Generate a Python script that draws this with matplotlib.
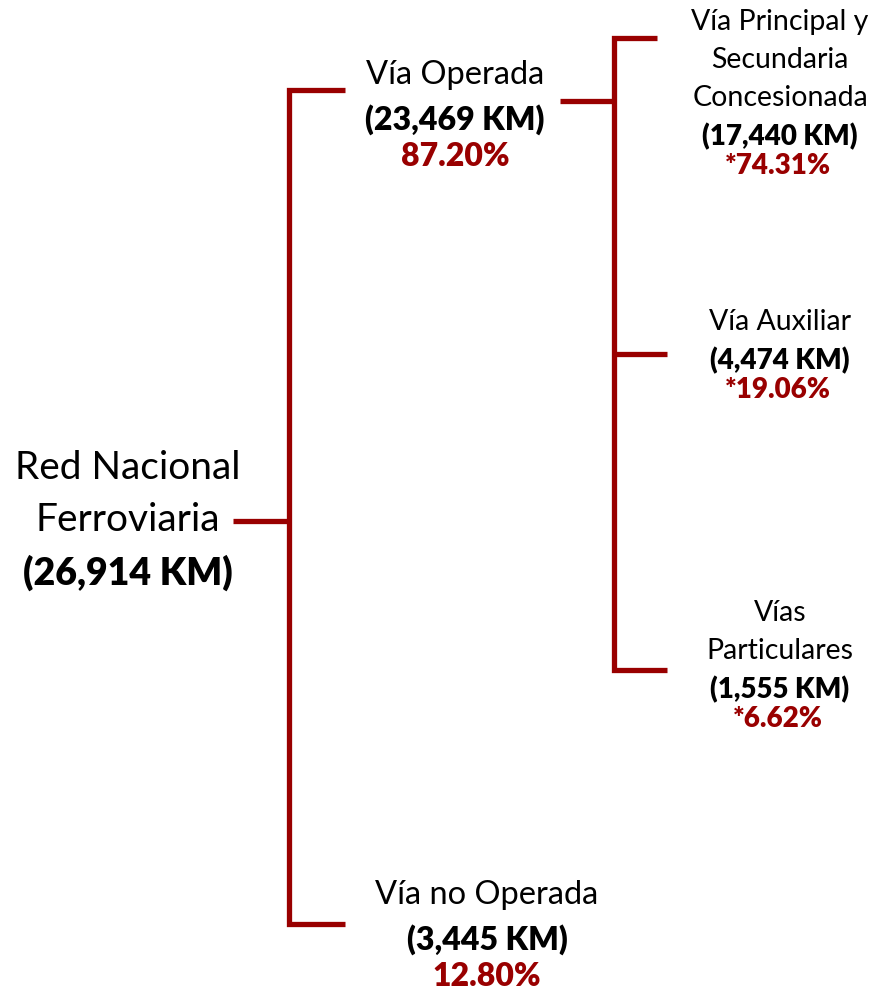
import matplotlib
matplotlib.use('Agg')
import matplotlib.pyplot as plt

plt.rcParams['font.family'] = ['Lato', 'DejaVu Sans']

RED = '#990000'

# data
root_name = ['Red Nacional', 'Ferroviaria']
root_km = '(26,914 KM)'

lvl1_names = ['Vía Operada', 'Vía no Operada']
lvl1_km = ['(23,469 KM)', '(3,445 KM)']
lvl1_pct = ['87.20%', '12.80%']

lvl2_names = [['Vía Principal y', 'Secundaria', 'Concesionada'],
              ['Vía Auxiliar'],
              ['Vías', 'Particulares']]
lvl2_km = ['(17,440 KM)', '(4,474 KM)', '(1,555 KM)']
lvl2_pct = ['*74.31%', '*19.06%', '*6.62%']

fig = plt.figure(figsize=(8.76, 9.92), dpi=100)
ax = fig.add_axes([0, 0, 1, 1])
ax.set_xlim(0, 876)
ax.set_ylim(992, 0)
ax.axis('off')

lw = 3.8
kw = dict(color=RED, lw=lw, solid_capstyle='butt', solid_joinstyle='miter')

# root bracket
ax.plot([233, 289], [521, 521], **kw)
ax.plot([345, 289, 289, 345], [90, 90, 924, 924], **kw)

# second bracket
ax.plot([560, 614], [101, 101], **kw)
ax.plot([657, 614, 614, 667], [38, 38, 670, 670], **kw)
ax.plot([614, 667], [354, 354], **kw)

# root text
ax.text(128, 468, root_name[0], fontsize=28, ha='center', va='center')
ax.text(128, 520, root_name[1], fontsize=28, ha='center', va='center')
ax.text(128, 573, root_km, fontsize=27, fontweight='heavy', ha='center', va='center')

# level 1
l1_x = [455, 487]
l1_y = [75, 895]
for i in range(2):
    ax.text(l1_x[i], l1_y[i], lvl1_names[i], fontsize=23.5, ha='center', va='center')
    ax.text(l1_x[i], l1_y[i] + 45, lvl1_km[i], fontsize=23, fontweight='heavy', ha='center', va='center')
    ax.text(l1_x[i], l1_y[i] + 82, lvl1_pct[i], fontsize=23, fontweight='heavy', color=RED,
            ha='center', va='center')

# level 2
l2_x = [780, 780, 780]
l2_y = [22, 322, 613]
for i in range(3):
    y = l2_y[i]
    for line in lvl2_names[i]:
        ax.text(l2_x[i], y, line, fontsize=20.5, ha='center', va='center')
        y += 38
    ax.text(l2_x[i], y + 1, lvl2_km[i], fontsize=20, fontweight='heavy', ha='center', va='center')
    ax.text(l2_x[i] - 2, y + 30, lvl2_pct[i], fontsize=20, fontweight='heavy', color=RED,
            ha='center', va='center')

fig.savefig('out.png', dpi=100)
